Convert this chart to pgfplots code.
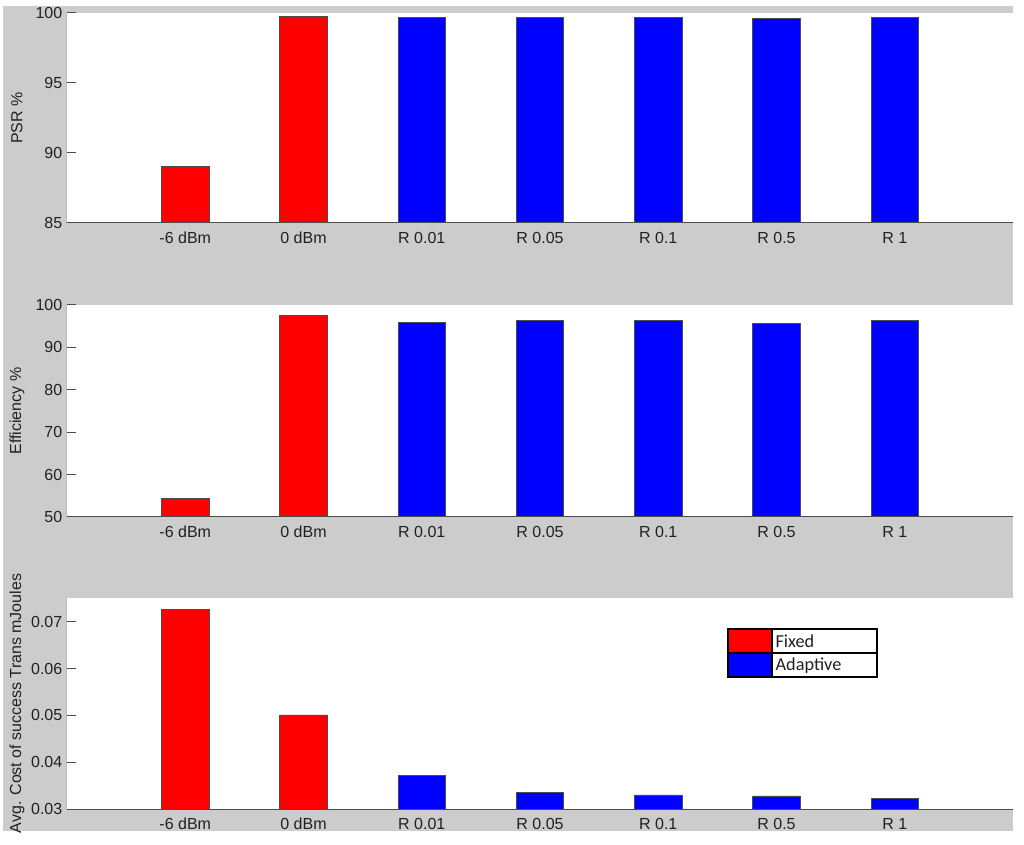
\documentclass[border=0pt]{standalone}
\usepackage{fontspec}
\setmainfont{Liberation Sans}
\newfontfamily\carlito{Carlito}
\usepackage{pgfplots}
\pgfplotsset{compat=1.18}
\definecolor{figgray}{gray}{0.8}
\definecolor{axgray}{gray}{0.3}
\definecolor{txtgray}{gray}{0.13}
\tikzset{spines/.style={axgray, line width=0.75pt}}
\pgfplotsset{
  mystyle/.style={
    scale only axis, width=709.5pt, anchor=north west,
    xmin=0, xmax=8, xtick={1,2,3,4,5,6,7},
    xticklabels={-6 dBm,0 dBm,R 0.01,R 0.05,R 0.1,R 0.5,R 1},
    axis line style={draw=none},
    ytick pos=left, tick align=inside, major tick length=6.75pt,
    xtick style={draw=none},
    ytick style={axgray, line width=0.75pt},
    axis background/.style={fill=white},
    ticklabel style={font=\fontsize{12}{14}\selectfont, text=txtgray},
    /pgf/number format/assume math mode=true,
    xticklabel style={yshift=-3.5pt},
    label style={font=\fontsize{12}{14}\selectfont, text=txtgray},
    ylabel style={at={(axis description cs:-0.0529,0.5)}, anchor=center},
  },
  redbar/.style={ybar, bar width=0.4, bar shift=0pt, fill=red, draw=black!70, line width=0.6pt},
  bluebar/.style={ybar, bar width=0.4, bar shift=0pt, fill=blue, draw=black!70, line width=0.6pt},
}
\begin{document}
\begin{tikzpicture}
\useasboundingbox (0,0) rectangle (768pt,633.75pt);
\fill[white] (0,0) rectangle (768pt,633.75pt);
\fill[figgray] (2.25pt,10.5pt) rectangle (759.75pt,629.25pt);

% PSR
\begin{axis}[mystyle, at={(50.25pt,624pt)}, height=157.5pt,
  ymin=85, ymax=100, ytick={85,90,95,100}, ylabel={PSR \%}]
\addplot[redbar] coordinates {(1,89.05) (2,99.74)};
\addplot[bluebar] coordinates {(3,99.66) (4,99.69) (5,99.66) (6,99.62) (7,99.71)};
\draw[spines] (rel axis cs:0,1) -- (rel axis cs:0,0) -- (rel axis cs:1,0);
\end{axis}

% Efficiency
\begin{axis}[mystyle, at={(50.25pt,405pt)}, height=159pt,
  ymin=50, ymax=100, ytick={50,60,70,80,90,100}, ylabel={Efficiency \%}]
\addplot[redbar] coordinates {(1,54.4) (2,97.5)};
\addplot[bluebar] coordinates {(3,95.9) (4,96.4) (5,96.3) (6,95.7) (7,96.3)};
\draw[spines] (rel axis cs:0,1) -- (rel axis cs:0,0) -- (rel axis cs:1,0);
\end{axis}

% Cost
\begin{axis}[mystyle, at={(50.25pt,185.25pt)}, height=158.25pt,
  ymin=0.03, ymax=0.0751, ytick={0.03,0.04,0.05,0.06,0.07},
  scaled y ticks=false,
  yticklabel style={/pgf/number format/fixed, /pgf/number format/fixed zerofill, /pgf/number format/precision=2},
  ylabel={Avg. Cost of success Trans mJoules}]
\addplot[redbar] coordinates {(1,0.0726) (2,0.0501)};
\addplot[bluebar] coordinates {(3,0.0371) (4,0.0336) (5,0.0330) (6,0.0328) (7,0.0322)};
\draw[spines] (rel axis cs:0,1) -- (rel axis cs:0,0) -- (rel axis cs:1,0);
\end{axis}

% legend
\fill[red] (546pt,144pt) rectangle (579pt,162pt);
\fill[blue] (546pt,126pt) rectangle (579pt,144pt);
\fill[white] (579pt,126pt) rectangle (657.75pt,162pt);
\draw[black, line width=1pt] (546pt,126pt) rectangle (657.75pt,162pt);
\draw[black, line width=1pt] (546pt,144pt) -- (657.75pt,144pt);
\draw[black, line width=1pt] (579pt,126pt) -- (579pt,162pt);
\node[anchor=west, inner sep=0pt, text=txtgray, font=\carlito\fontsize{13.7}{15}\selectfont] at (581.5pt,152.5pt) {Fixed};
\node[anchor=west, inner sep=0pt, text=txtgray, font=\carlito\fontsize{13.7}{15}\selectfont] at (581.5pt,134.5pt) {Adaptive};
\end{tikzpicture}
\end{document}
